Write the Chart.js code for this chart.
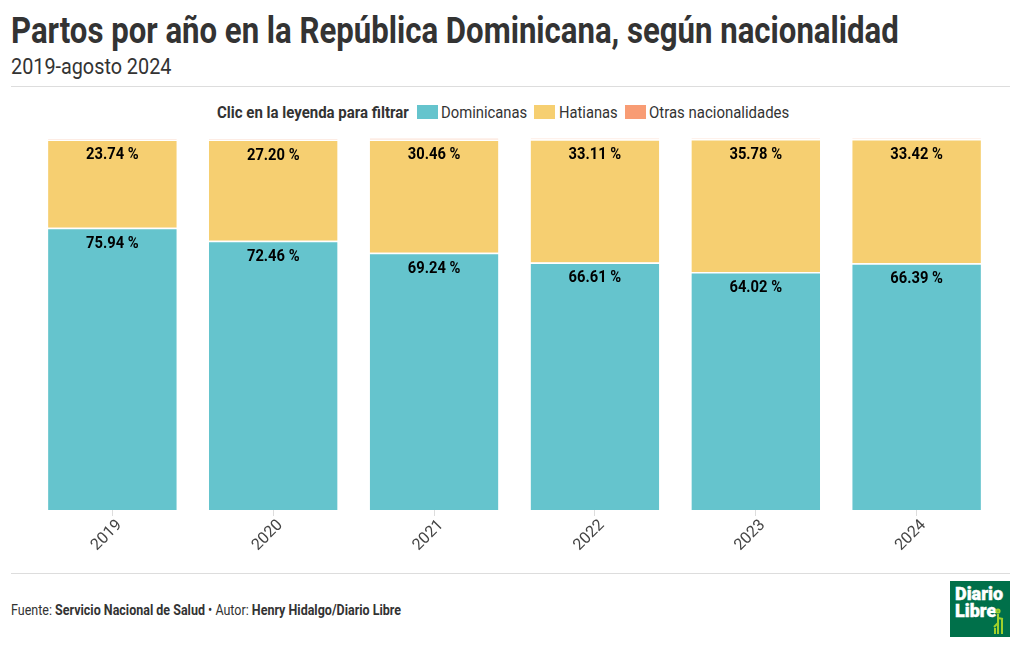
<!DOCTYPE html>
<html lang="es"><head><meta charset="utf-8">
<script src="https://cdn.jsdelivr.net/npm/chart.js@4"></script>
<style>
html,body{margin:0;padding:0;background:#fff;width:1020px;height:650px;overflow:hidden}
body{position:relative;font-family:Roboto,sans-serif;color:#333}
.t{position:absolute;white-space:nowrap;transform-origin:0 0;line-height:1}
#wrap{position:absolute;left:0;top:130px;width:1020px;height:440px}
.rule{position:absolute;left:11px;width:999px;height:1px;background:#ddd}
.sw{position:absolute;width:21px;height:14px}
</style></head><body>
<div class="t" style="left:11px;top:13px;font-size:36px;font-weight:700;transform:scaleX(.865)">Partos por año en la República Dominicana, según nacionalidad</div>
<div class="t" style="left:11px;top:56px;font-size:22px;transform:scaleX(.9)">2019-agosto 2024</div>
<div class="rule" style="top:86px"></div>
<div class="t" style="left:217px;top:105px;font-size:16px;font-weight:700;transform:scaleX(.937)">Clic en la leyenda para filtrar</div>
<div class="sw" style="left:417px;top:105px;background:#65c4cd"></div>
<div class="t" style="left:441px;top:105px;font-size:16px;transform:scaleX(.925)">Dominicanas</div>
<div class="sw" style="left:534px;top:105px;background:#f6cf71"></div>
<div class="t" style="left:559px;top:105px;font-size:16px;transform:scaleX(.92)">Hatianas</div>
<div class="sw" style="left:625px;top:105px;background:#f89c74"></div>
<div class="t" style="left:649px;top:105px;font-size:16px;transform:scaleX(.935)">Otras nacionalidades</div>
<div id="wrap"><canvas id="c" width="1020" height="440"></canvas></div>
<div class="rule" style="top:573px"></div>
<div class="t" style="left:11px;top:603px;font-size:14px;transform:scaleX(.893)">Fuente: <b>Servicio Nacional de Salud</b> • Autor: <b>Henry Hidalgo/Diario Libre</b></div>
<div style="position:absolute;left:950px;top:581px;width:60px;height:56px;background:#00704a;color:#fff;font-weight:900;font-size:18px;line-height:17px;box-sizing:border-box;padding:4px 0 0 5px;-webkit-text-stroke:.4px #fff">Diario<br>Libre
<svg style="position:absolute;left:42px;top:27px" width="14" height="27" viewBox="0 0 14 27" fill="none" stroke="#9fd02c" stroke-width="2"><circle cx="6" cy="3" r="1.6"/><path d="M6 6v20M10 10v16M6 10l5 1M2 19l4-4M3 26v-6"/></svg></div>
<script>
const categories=["2019","2020","2021","2022","2023","2024"];
const dominicanas=[75.94,72.46,69.24,66.61,64.02,66.39];
const hatianas=[23.74,27.20,30.46,33.11,35.78,33.42];
const otras=[0.32,0.34,0.30,0.28,0.20,0.19];
const fmt=v=>v.toFixed(2)+" %";
const labels={id:"labels",afterDatasetsDraw(ch){
  const ctx=ch.ctx;
  [0,1].forEach(i=>{
    ch.getDatasetMeta(i).data.forEach((b,j)=>{
      const v=ch.data.datasets[i].data[j];
      ctx.save();
      ctx.translate(b.x,b.y+16);
      ctx.scale(.92,1);
      ctx.font="700 16px Roboto";ctx.fillStyle="#000";ctx.textAlign="center";ctx.textBaseline="middle";
      ctx.fillText(fmt(v),0,0);
      ctx.restore();
    });
  });
}};
const common={barPercentage:.8,categoryPercentage:1,borderColor:"#fff",borderWidth:{top:1.5,bottom:0,left:0,right:0},borderSkipped:false};
new Chart(document.getElementById("c"),{type:"bar",
 data:{labels:categories,datasets:[
  {label:"Dominicanas",data:dominicanas,backgroundColor:"#65c4cd",...common},
  {label:"Hatianas",data:hatianas,backgroundColor:"#f6cf71",...common},
  {label:"Otras nacionalidades",data:otras,backgroundColor:"#f89c74",...common,inflateAmount:0}]},
 options:{responsive:false,animation:false,devicePixelRatio:1,
  layout:{padding:{left:32,right:23,top:8.3,bottom:15}},
  plugins:{legend:{display:false},tooltip:{enabled:false}},
  scales:{
   x:{stacked:true,grid:{display:true,offset:false,drawOnChartArea:false,drawTicks:true,tickLength:6,color:"#ddd"},border:{display:false},
      ticks:{maxRotation:45,minRotation:45,color:"#444",font:{family:"Roboto",size:16},padding:0,labelOffset:7}},
   y:{stacked:true,min:0,max:100,display:false}
  }},
 plugins:[labels]});
</script></body></html>
